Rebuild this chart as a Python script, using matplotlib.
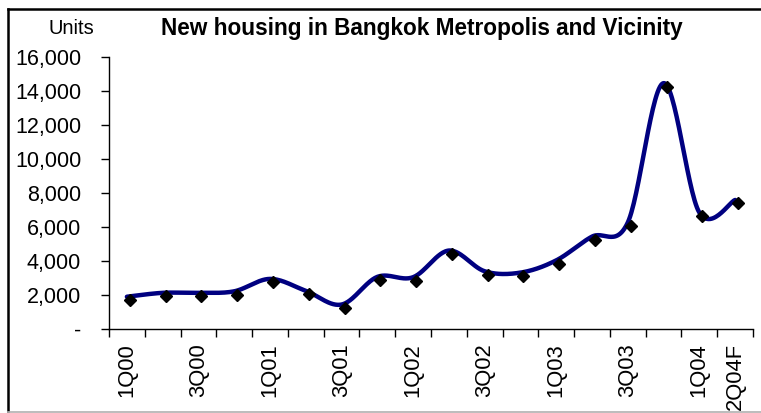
import matplotlib
matplotlib.use("Agg")
import matplotlib.pyplot as plt
import matplotlib.transforms as mtransforms
from matplotlib.lines import Line2D
from matplotlib.ticker import FuncFormatter, FixedLocator
import numpy as np

plt.rcParams['font.family'] = ['Liberation Sans', 'DejaVu Sans']

quarters = ["1Q00", "2Q00", "3Q00", "4Q00", "1Q01", "2Q01", "3Q01", "4Q01",
            "1Q02", "2Q02", "3Q02", "4Q02", "1Q03", "2Q03", "3Q03", "4Q03",
            "1Q04", "2Q04F"]
units = [1900, 2130, 2130, 2220, 2950, 2250, 1440, 3070,
         3050, 4620, 3400, 3320, 4040, 5440, 6270, 14480,
         6860, 7600]
shown_labels = ["1Q00", "3Q00", "1Q01", "3Q01", "1Q02", "3Q02", "1Q03", "3Q03", "1Q04", "2Q04F"]
y_ticks = [0, 2000, 4000, 6000, 8000, 10000, 12000, 14000, 16000]


def smooth(xs, ys, n=30):
    # Bezier smoothing through the points (Excel-style smoothed line)
    xs = np.asarray(xs, float)
    ys = np.asarray(ys, float)
    P = np.column_stack([xs, ys])
    out = []
    m = len(P)
    for i in range(m - 1):
        p0 = P[i - 1] if i > 0 else P[i]
        p1 = P[i]
        p2 = P[i + 1]
        p3 = P[i + 2] if i + 2 < m else P[i + 1]
        c1 = p1 + (p2 - p0) / 6.0
        c2 = p2 - (p3 - p1) / 6.0
        t = np.linspace(0, 1, n, endpoint=(i == m - 2))[:, None]
        seg = ((1 - t) ** 3) * p1 + 3 * ((1 - t) ** 2) * t * c1 + 3 * (1 - t) * t ** 2 * c2 + t ** 3 * p2
        out.append(seg)
    out = np.vstack(out)
    return out[:, 0], out[:, 1]


fig = plt.figure(figsize=(7.61, 4.13), dpi=100)
ax = fig.add_axes([109 / 761, 1 - 329 / 413, (753 - 109) / 761, (329 - 57.3) / 413])

x = np.arange(1, len(quarters) + 1)
sx, sy = smooth(x, units)
ax.plot(sx, sy, color="#000080", lw=3.2, solid_capstyle="round", zorder=2)

offset = mtransforms.ScaledTranslation(3 / 100, -3.5 / 100, fig.dpi_scale_trans)
ax.plot(x, units, linestyle="none", marker="D", markersize=6.5, color="black",
        transform=ax.transData + offset, zorder=3, clip_on=False)

ax.set_xlim(0.5, len(quarters) + 0.5)
ax.set_ylim(0, 16000)

ax.xaxis.set_major_locator(FixedLocator(np.arange(0.5, len(quarters) + 1, 1.0)))
ax.xaxis.set_major_formatter(FuncFormatter(lambda v, p: ""))
label_pos = [quarters.index(q) + 1 for q in shown_labels]
ax.xaxis.set_minor_locator(FixedLocator(label_pos))
ax.set_xticks(label_pos, shown_labels, minor=True, rotation=90, fontsize=15.8)
ax.tick_params(axis="x", which="minor", length=0, pad=10)
ax.tick_params(axis="x", which="major", length=6, width=1, direction="out")

ax.set_yticks(y_ticks)
ax.yaxis.set_major_formatter(FuncFormatter(lambda v, p: "-" if v == 0 else f"{int(v):,}"))
ax.tick_params(axis="y", length=6, width=1, labelsize=15.5, pad=14)

for s in ["top", "right"]:
    ax.spines[s].set_visible(False)
for s in ["left", "bottom"]:
    ax.spines[s].set_linewidth(1)
    ax.spines[s].set_color("black")

fig.text(422 / 761, 1 - 29 / 413, "New housing in Bangkok Metropolis and Vicinity",
         ha="center", va="center", fontsize=16.3, fontweight="bold")
fig.text(71.5 / 761, 1 - 29 / 413, "Units", ha="center", va="center", fontsize=14.5)

# outer frame
fig.add_artist(Line2D([7.5 / 761, 7.5 / 761], [1 - 9 / 413, 1 - 411 / 413], transform=fig.transFigure,
                      color="black", lw=1.8))
fig.add_artist(Line2D([7.5 / 761, 1.0], [1 - 9 / 413, 1 - 9 / 413], transform=fig.transFigure,
                      color="black", lw=1.8))
fig.add_artist(Line2D([7.5 / 761, 1.0], [1 - 411.5 / 413, 1 - 411.5 / 413], transform=fig.transFigure,
                      color="#b0b0b0", lw=1.2))

fig.savefig("out.png", dpi=100)
